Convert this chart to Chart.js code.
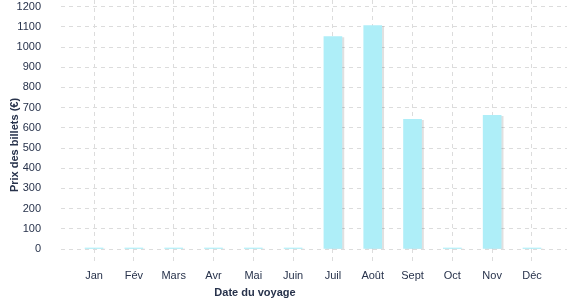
<!DOCTYPE html>
<html>
<head>
<meta charset="utf-8">
<script src="https://cdn.jsdelivr.net/npm/chart.js@4/dist/chart.umd.min.js"></script>
<style>
html,body{margin:0;padding:0;background:#fff;}
#wrap{width:577px;height:300px;position:relative;}
</style>
</head>
<body>
<div id="wrap"><canvas id="c" width="577" height="300"></canvas></div>
<script>
const months = ['Jan','Fév','Mars','Avr','Mai','Juin','Juil','Août','Sept','Oct','Nov','Déc'];
const prices = [0, 0, 0, 0, 0, 0, 1052, 1106, 642, 0, 662, 0];
const yTicks = [0,100,200,300,400,500,600,700,800,900,1000,1100,1200];
const xTitle = 'Date du voyage';
const yTitle = 'Prix des billets (€)';

const TEXT = '#27324b';
const GRID = '#dcdcdc';
const FONT = '"Liberation Sans", Arial, sans-serif';

const titlesPlugin = {
  id: 'titles',
  afterDraw(chart) {
    const ctx = chart.ctx;
    ctx.save();
    ctx.fillStyle = TEXT;
    ctx.font = 'bold 11px ' + FONT;
    ctx.textAlign = 'center';
    ctx.textBaseline = 'middle';
    ctx.fillText(xTitle, 255, 293);
    ctx.translate(15, 145);
    ctx.rotate(-Math.PI / 2);
    ctx.fillText(yTitle, 0, 0);
    ctx.restore();
  }
};

const shadowPlugin = {
  id: 'barShadow',
  beforeDatasetsDraw(chart) {
    const ctx = chart.ctx;
    ctx.save();
    ctx.shadowColor = 'rgba(0,0,0,0.12)';
    ctx.shadowOffsetX = 2;
    ctx.shadowOffsetY = 1;
    ctx.shadowBlur = 0;
  },
  afterDatasetsDraw(chart) {
    chart.ctx.restore();
  }
};

new Chart(document.getElementById('c'), {
  type: 'bar',
  data: {
    datasets: [{
      data: prices.map((v, i) => ({ x: i, y: v })),
      backgroundColor: '#aeeef8',
      borderWidth: 0,
      barThickness: 18,
      minBarLength: 1
    }]
  },
  options: {
    responsive: false,
    animation: false,
    events: [],
    layout: { padding: { left: 0, right: 10, top: 0, bottom: 0 } },
    plugins: { legend: { display: false }, tooltip: { enabled: false }, title: { display: false } },
    scales: {
      x: {
        type: 'linear',
        offset: false,
        min: -0.83,
        max: 11.88,
        afterBuildTicks(scale) { scale.ticks = months.map((m, i) => ({ value: i })); },
        afterFit(scale) { scale.height = 51; scale.paddingLeft = 0; scale.paddingRight = 0; },
        border: { display: false, dash: [4, 4] },
        grid: {
          offset: false,
          color: GRID,
          tickBorderDash: [4, 4],
          tickColor: GRID,
          tickLength: 13,
          drawTicks: true
        },
        ticks: {
          autoSkip: false,
          maxRotation: 0,
          padding: 7,
          color: TEXT,
          font: { family: FONT, size: 11 },
          callback: (v) => months[v]
        }
      },
      y: {
        min: 0,
        max: 1233,
        afterBuildTicks(scale) { scale.ticks = yTicks.map(v => ({ value: v })); },
        afterFit(scale) { scale.width = 61; scale.paddingTop = 0; scale.paddingBottom = 0; },
        border: { display: false, dash: [4, 4] },
        grid: {
          color: GRID,
          drawTicks: false
        },
        ticks: {
          padding: 20,
          color: TEXT,
          font: { family: FONT, size: 11 },
          callback: (v) => String(v)
        }
      }
    }
  },
  plugins: [shadowPlugin, titlesPlugin]
});
</script>
</body>
</html>
